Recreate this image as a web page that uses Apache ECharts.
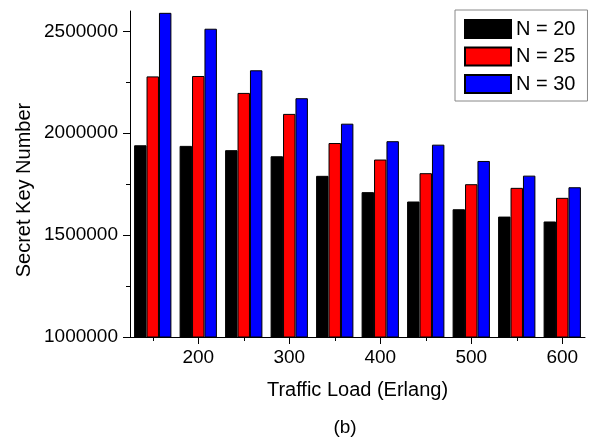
<!DOCTYPE html>
<html>
<head>
<meta charset="utf-8">
<script src="https://cdn.jsdelivr.net/npm/echarts@6/dist/echarts.min.js"></script>
<style>
html,body{margin:0;padding:0;background:#fff;}
#chart{width:593px;height:439px;}
</style>
</head>
<body>
<div id="chart"></div>
<script>
var categories = ['150','200','250','300','350','400','450','500','550','600'];
var seriesNames = ['N = 20','N = 25','N = 30'];
var n20 = [1941000,1938000,1917000,1887000,1791000,1711000,1665000,1627000,1591000,1567000];
var n25 = [2279000,2281000,2198000,2095000,1952000,1871000,1804000,1750000,1732000,1683000];
var n30 = [2591000,2513000,2309000,2172000,2047000,1961000,1944000,1864000,1792000,1735000];
var yMajorTicks = [1000000,1500000,2000000,2500000];
var yMinorTicks = [1250000,1750000,2250000];
var xTitle = 'Traffic Load (Erlang)';
var yTitle = 'Secret Key Number';
var subLabel = '(b)';

var FONT = 'Arial, "Liberation Sans", sans-serif';
var colors = ['#000000','#ff0000','#0000ff'];
var values = [n20, n25, n30];

var chart = echarts.init(document.getElementById('chart'), null, {renderer:'canvas'});
var majorX = function(i){ return i % 2 === 1; };
var minorX = function(i){ return i % 2 === 0; };

var option = {
  animation: false,
  backgroundColor: '#ffffff',
  grid: {left:130, right:8, top:11, bottom:102, containLabel:false},
  legend: {
    left: 455, top: 10, orient: 'vertical',
    itemWidth: 46, itemHeight: 18, itemGap: 7.5,
    padding: [9, 12, 7, 9],
    borderColor: '#888888', borderWidth: 1,
    icon: 'rect',
    textStyle: {fontFamily: FONT, fontSize: 20, color: '#000'},
    data: seriesNames
  },
  xAxis: [{
    type: 'category', data: categories, boundaryGap: true,
    axisLine: {show:true, lineStyle:{color:'#000', width:1}},
    axisTick: {show:true, alignWithLabel:true, interval: majorX, length:7, inside:false, lineStyle:{color:'#000'}},
    axisLabel: {interval: majorX, fontFamily: FONT, fontSize: 19, color:'#000', margin: 11},
    splitLine: {show:false},
    name: xTitle, nameLocation: 'middle', nameGap: 43,
    nameTextStyle: {fontFamily: FONT, fontSize: 20, color:'#000'}
  },{
    type: 'category', data: categories, boundaryGap: true, position: 'bottom',
    axisLine: {show:false},
    axisTick: {show:true, alignWithLabel:true, interval: minorX, length:4, lineStyle:{color:'#000'}},
    axisLabel: {show:false},
    splitLine: {show:false}
  }],
  yAxis: [{
    type: 'value', min: 1000000, max: 2600000, interval: 500000,
    axisLine: {show:true, lineStyle:{color:'#000', width:1}},
    axisTick: {show:true, customValues: yMajorTicks, length:7, lineStyle:{color:'#000'}},
    axisLabel: {customValues: yMajorTicks, fontFamily: FONT, fontSize: 19, color:'#000', margin: 12,
      formatter: function(v){ return String(v); }},
    splitLine: {show:false}
  },{
    type: 'value', min: 1000000, max: 2600000, position: 'left',
    axisLine: {show:false},
    axisTick: {show:true, customValues: yMinorTicks, length:4, lineStyle:{color:'#000'}},
    axisLabel: {show:false},
    splitLine: {show:false}
  }],
  graphic: [{
    type: 'text', x: 24, y: 190, rotation: Math.PI/2,
    style: {text: yTitle, font: '20px ' + FONT, fill: '#000', align: 'center', verticalAlign: 'middle'}
  },{
    type: 'text', x: 345, y: 428,
    style: {text: subLabel, font: '19px ' + FONT, fill: '#000', align: 'center', verticalAlign: 'middle'}
  }],
  series: seriesNames.map(function(name, k){
    return {
      name: name, type: 'bar', data: values[k],
      xAxisIndex: 0, yAxisIndex: 0,
      barGap: 0, barCategoryGap: '18%',
      itemStyle: {color: colors[k], borderColor: '#000', borderWidth: 1}
    };
  })
};
chart.setOption(option);
</script>
</body>
</html>
